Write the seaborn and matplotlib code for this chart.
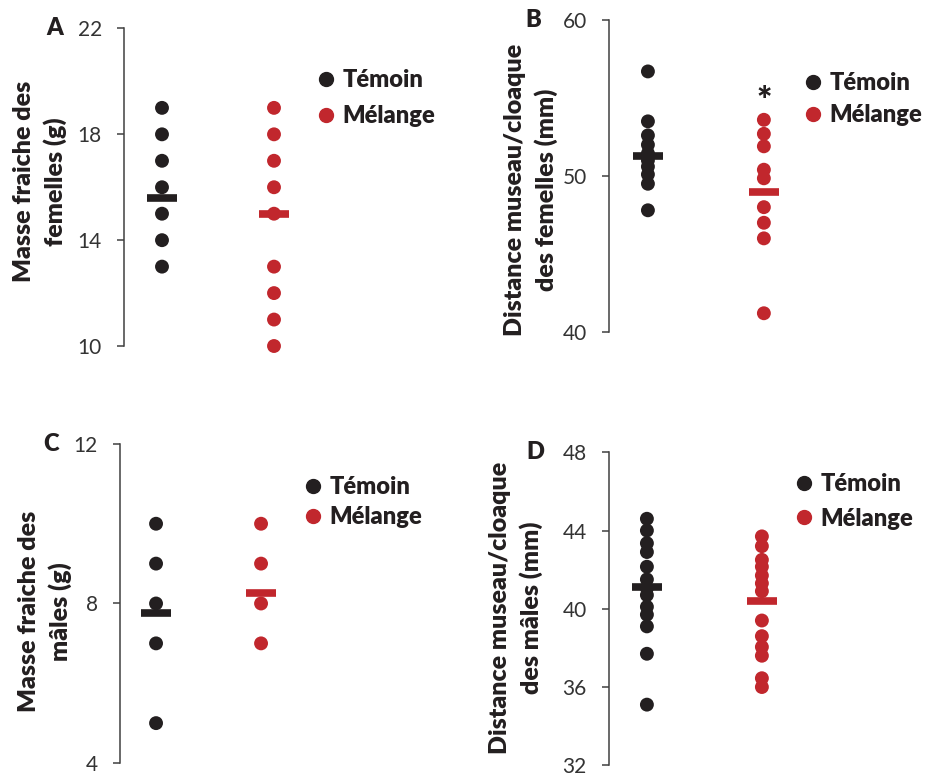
import numpy as np
import pandas as pd
import matplotlib
matplotlib.use('Agg')
import matplotlib.pyplot as plt
from matplotlib.lines import Line2D
import seaborn as sns

sns.set_style('white')
plt.rcParams['font.family'] = ['Lato', 'DejaVu Sans']

groups = ['Témoin', 'Mélange']
colors = {'Témoin': '#231f20', 'Mélange': '#c1272d'}
text_col = '#231f20'
bold = 'heavy'

# A - masse fraiche des femelles (g)
a_temoin = [19, 18, 17, 16, 15, 14, 13]
a_melange = [19, 18, 17, 16, 15, 13, 12, 11, 10]
a_means = [15.6, 15.0]

# B - distance museau/cloaque des femelles (mm)
b_temoin = [56.7, 53.5, 52.6, 52.0, 51.45, 51.0, 50.6, 50.1, 49.5, 47.8]
b_melange = [53.6, 52.7, 51.9, 50.4, 49.85, 48.0, 47.0, 46.0, 41.2]
b_means = [51.3, 48.95]

# C - masse fraiche des males (g)
c_temoin = [10, 9, 8, 7, 5]
c_melange = [10, 9, 8, 7]
c_means = [7.77, 8.26]

# D - distance museau/cloaque des males (mm)
d_temoin = [44.6, 44.0, 43.35, 42.9, 42.15, 41.5, 41.05, 40.7, 40.1, 39.7,
            39.1, 37.7, 35.1]
d_melange = [43.7, 43.2, 42.5, 42.15, 41.7, 41.3, 40.9, 39.4, 38.6, 38.05,
             37.6, 36.45, 36.0]
d_means = [41.1, 40.4]

panels = [
    dict(letter='A', t=a_temoin, m=a_melange, means=a_means,
         ylabel='Masse fraiche des\nfemelles (g)', ylim=(10, 22), ticks=[10, 14, 18, 22],
         rect=[0.1335, 0.5541, 0.3617, 0.4092], xlim=(-0.339, 2.661),
         lab=(-0.25, 0.517), let=(55, 28), leg=(319, 69), lsp=0.60),
    dict(letter='B', t=b_temoin, m=b_melange, means=b_means,
         ylabel='Distance museau/cloaque\ndes femelles (mm)', ylim=(40, 60), ticks=[40, 50, 60],
         rect=[0.6555, 0.5722, 0.3400, 0.4021], xlim=(-0.336, 2.388),
         lab=(-0.248, 0.455), let=(533, 20), leg=(806, 72), lsp=0.43),
    dict(letter='C', t=c_temoin, m=c_melange, means=c_means,
         ylabel='Masse fraiche des\nmâles (g)', ylim=(4, 12), ticks=[4, 8, 12],
         rect=[0.1292, 0.01675, 0.3660, 0.4111], xlim=(-0.343, 2.895),
         lab=(-0.22, 0.476), let=(51, 444), leg=(306, 476), lsp=0.33),
    dict(letter='D', t=d_temoin, m=d_melange, means=d_means,
         ylabel='Distance museau/cloaque\ndes mâles (mm)', ylim=(32, 48), ticks=[32, 36, 40, 44, 48],
         rect=[0.6555, 0.0138, 0.3400, 0.4034], xlim=(-0.330, 2.417),
         lab=(-0.294, 0.504), let=(535, 452), leg=(797, 473), lsp=0.54),
]

W, H = 929, 776
fig = plt.figure(figsize=(W / 100, H / 100), dpi=100)

for p in panels:
    ax = fig.add_axes(p['rect'])
    df = pd.DataFrame({'groupe': ['Témoin'] * len(p['t']) + ['Mélange'] * len(p['m']),
                       'valeur': p['t'] + p['m']})
    sns.stripplot(data=df, x='groupe', y='valeur', hue='groupe', order=groups,
                  hue_order=groups, palette=colors, jitter=False, size=10,
                  linewidth=0, legend=False, ax=ax, zorder=3)
    for coll in ax.collections:
        coll.set_clip_on(False)
    # mean bars
    for i, g in enumerate(groups):
        ax.plot([i], [p['means'][i]], marker='_', ms=21, mew=5.5, color=colors[g],
                ls='none', zorder=4)

    ax.set_xlim(*p['xlim'])
    ax.set_ylim(*p['ylim'])
    ax.set_yticks(p['ticks'])
    ax.set_xticks([])
    ax.set_xlabel('')
    for s in ['top', 'right', 'bottom']:
        ax.spines[s].set_visible(False)
    ax.spines['left'].set_color('#404040')
    ax.spines['left'].set_linewidth(1.1)
    ax.tick_params(axis='y', direction='out', length=5, width=1.1, color='#404040',
                   labelsize=15, labelcolor='#333333', pad=11, left=True)
    ax.set_ylabel(p['ylabel'], fontsize=18, fontweight=bold, color=text_col,
                  linespacing=1.42, va='center', ha='center')
    ax.yaxis.set_label_coords(*p['lab'])
    ax.patch.set_alpha(0)

    fig.text(p['let'][0] / W, 1 - p['let'][1] / H, p['letter'], fontsize=17,
             fontweight=bold, color=text_col, ha='center', va='center')

    handles = [Line2D([], [], marker='o', ls='none', ms=10, color=colors[g]) for g in groups]
    ax.legend(handles, groups, loc='upper left',
              bbox_to_anchor=(p['leg'][0] / W, 1 - p['leg'][1] / H),
              bbox_transform=fig.transFigure, frameon=False, borderpad=0,
              borderaxespad=0, handlelength=0.6, handletextpad=0.4,
              labelspacing=p['lsp'], prop={'size': 17, 'weight': bold},
              labelcolor=text_col)

# significance mark in B
axB = fig.axes[1]
axB.text(1, 54.8, '*', fontsize=26, fontweight=bold, color=text_col,
         ha='center', va='center')

fig.savefig('out.png', dpi=100)
